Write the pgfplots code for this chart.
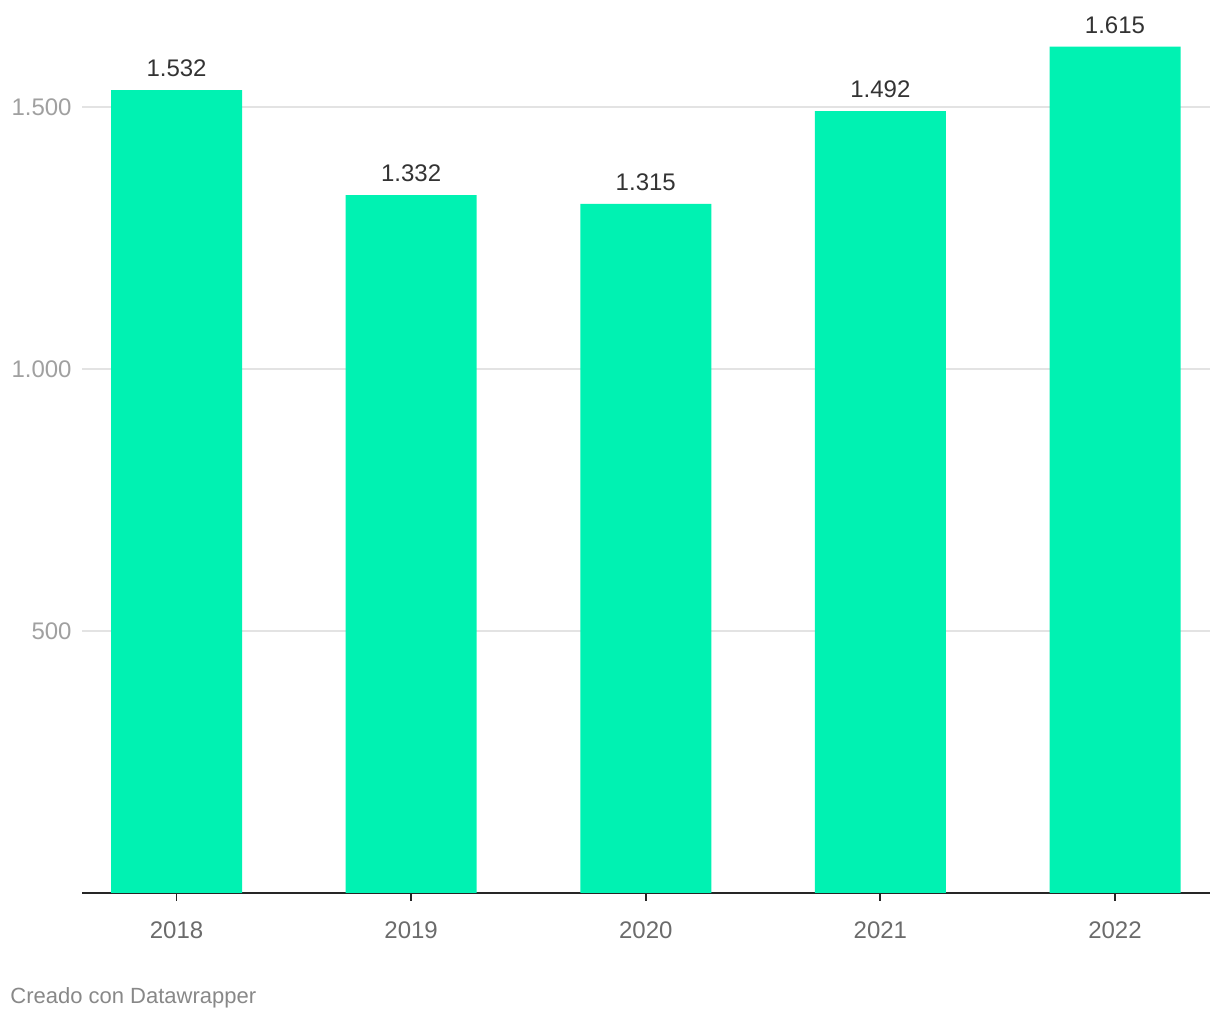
\documentclass[border=0pt]{standalone}
\usepackage{fontspec}
\setmainfont{Liberation Sans}
\usepackage{pgfplots}
\pgfplotsset{compat=1.18}
\definecolor{barc}{HTML}{00F2B2}
\definecolor{gridc}{HTML}{E3E3E3}
\definecolor{ylab}{HTML}{A0A0A0}
\definecolor{xlab}{HTML}{6B6B6B}
\definecolor{vlab}{HTML}{333333}
\definecolor{foot}{HTML}{888888}
\begin{document}
\begin{tikzpicture}
\path[use as bounding box] (0,0) rectangle (610pt,510pt);
\begin{axis}[
  at={(41pt,63.5pt)}, anchor=south west,
  scale only axis, width=564pt, height=445.4pt,
  xmin=-0.403, xmax=4.405, ymin=0, ymax=1700,
  axis x line*=bottom, axis y line*=left,
  y axis line style={draw=none},
  x axis line style={black!85, line width=0.9pt},
  xtick={0,1,2,3,4}, xticklabels={2018,2019,2020,2021,2022},
  xtick style={black!85, line width=0.9pt},
  ytick style={draw=none},
  tick align=outside, major tick length=4pt,
  xticklabel style={font=\fontsize{12}{14}\selectfont, text=xlab, yshift=-7pt},
  ytick={500,1000,1500},
  ymajorgrids, grid style={gridc, line width=0.6pt},
  yticklabel style={font=\fontsize{12}{14}\selectfont, text=ylab, inner sep=0pt, anchor=east, xshift=-1pt},
  /pgf/number format/.cd, assume math mode=true, use comma, 1000 sep={.},
]
\addplot[ybar, bar width=65.5pt, fill=barc, draw=none,
  nodes near coords, every node near coord/.append style={font=\fontsize{12}{14}\selectfont, text=vlab, inner sep=0pt, anchor=south, yshift=6.5pt}]
  coordinates {(0,1532) (1,1332) (2,1315) (3,1492) (4,1615)};
\end{axis}
\node[anchor=base west, text=foot, font=\fontsize{11}{13}\selectfont, inner sep=0pt] at (5pt,8pt) {Creado con Datawrapper};
\end{tikzpicture}
\end{document}
